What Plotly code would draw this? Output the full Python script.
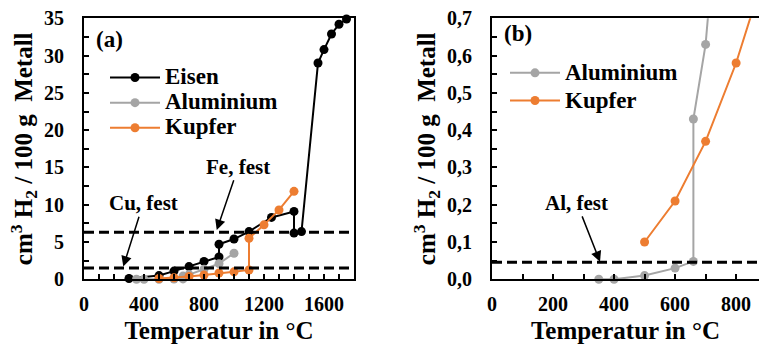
import plotly.graph_objects as go

# ---------------- data ----------------
eisen_T = [300, 500, 600, 700, 800, 900, 900, 1000, 1100, 1250, 1400, 1400, 1450, 1560, 1600, 1650, 1700, 1750]
eisen_H = [0.1, 0.5, 1.1, 1.7, 2.4, 3.0, 4.7, 5.4, 6.4, 8.3, 9.1, 6.2, 6.4, 29.0, 30.8, 32.9, 34.2, 34.9]

alu_T = [350, 400, 500, 600, 660, 660, 700, 800, 900, 1000]
alu_H = [0.0, 0.0, 0.01, 0.03, 0.048, 0.43, 0.63, 1.35, 2.1, 3.5]

kupfer_T = [500, 600, 700, 800, 900, 1000, 1100, 1100, 1200, 1300, 1400]
kupfer_H = [0.10, 0.21, 0.37, 0.58, 0.84, 1.0, 1.25, 5.5, 7.3, 9.3, 11.8]

fe_fest = 6.3
cu_fest = 1.5
al_fest = 0.046

x_title = "Temperatur in °C"
NB = "\u00a0"
y_title = f"cm<sup>3</sup> H<sub>2</sub>{NB}/ 100 g{NB} Metall"

BLACK = "#000000"
GRAY = "#A5A5A5"
ORANGE = "#ED7D31"
FONT = "Liberation Serif"

W, H = 759, 353

fig = go.Figure()

def add(x, y, name, color, xa, ya, legend, show=True):
    fig.add_trace(go.Scatter(
        x=x, y=y, name=f"<span style='font-size:23px'>{name}</span>", mode="lines+markers",
        line=dict(color=color, width=2),
        marker=dict(color=color, size=9),
        xaxis=xa, yaxis=ya, legend=legend, showlegend=show,
        cliponaxis=False,
    ))

# panel (a)
add(eisen_T, eisen_H, "Eisen", BLACK, "x", "y", "legend")
add(alu_T, alu_H, "Aluminium", GRAY, "x", "y", "legend")
add(kupfer_T, kupfer_H, "Kupfer", ORANGE, "x", "y", "legend")
# panel (b)
add(alu_T, alu_H, "Aluminium", GRAY, "x2", "y2", "legend2")
add(kupfer_T, kupfer_H, "Kupfer", ORANGE, "x2", "y2", "legend2")

ydom = [(H - 279.3) / H, (H - 18.3) / H]

axis_common = dict(
    showgrid=False, zeroline=False, showline=True, linecolor=BLACK, linewidth=2,
    ticks="inside", ticklen=5, tickwidth=1.5, tickcolor=BLACK, automargin=False,
    tickfont=dict(family=FONT, size=20, color=BLACK, weight="bold"),
)
title_font = dict(family=FONT, size=25, color=BLACK, weight="bold")
xt_font = dict(family=FONT, size=25, color=BLACK, weight="bold")

fig.update_layout(
    template="none",
    width=W, height=H, margin=dict(l=0, r=0, t=0, b=0, autoexpand=False),
    paper_bgcolor="white", plot_bgcolor="white",
    separators=", ",
    font=dict(family=FONT, color=BLACK, weight="bold"),
    xaxis=dict(domain=[84 / W, 354 / W], range=[0, 1800], dtick=400, tick0=0,
               minor=dict(ticks="inside", ticklen=5, dtick=100, tickwidth=1.5, tickcolor=BLACK),
               mirror=True, ticklabelstandoff=6,
               title=dict(text=x_title, font=xt_font, standoff=7), anchor="y", **axis_common),
    yaxis=dict(domain=ydom, range=[0, 35], dtick=5, tick0=0,
               minor=dict(ticks="inside", ticklen=5, dtick=2.5, tickwidth=1.5, tickcolor=BLACK),
               mirror=True, ticklabelstandoff=14,
               title=dict(text=y_title, font=title_font, standoff=4), anchor="x", **axis_common),
    xaxis2=dict(domain=[492 / W, 1.0], range=[0, 875], dtick=200, tick0=0,
                minor=dict(ticks="inside", ticklen=5, dtick=100, tickwidth=1.5, tickcolor=BLACK),
                mirror=True, ticklabelstandoff=6,
                title=dict(text=x_title, font=xt_font, standoff=7), anchor="y2", **axis_common),
    yaxis2=dict(domain=ydom, range=[0, 0.7], dtick=0.1, tick0=0, tickformat=".1f",
                minor=dict(ticks="inside", ticklen=5, dtick=0.05, tickwidth=1.5, tickcolor=BLACK),
                mirror=False, ticklabelstandoff=14,
                title=dict(text=y_title, font=title_font, standoff=4), anchor="x2", **axis_common),
    legend=dict(x=105 / W, y=(H - 60) / H, xanchor="left", yanchor="top",
                bgcolor="rgba(0,0,0,0)", itemwidth=50, borderwidth=0,
                font=dict(family=FONT, size=17, color=BLACK, weight="bold")),
    legend2=dict(x=505 / W, y=(H - 54) / H, xanchor="left", yanchor="top",
                 bgcolor="rgba(0,0,0,0)", itemwidth=50, borderwidth=0,
                 font=dict(family=FONT, size=19, color=BLACK, weight="bold")),
)

# dashed reference lines
for yv, xr, yr in [(fe_fest, "x", "y"), (cu_fest, "x", "y"), (al_fest, "x2", "y2")]:
    fig.add_shape(type="line", xref=f"{xr} domain", yref=yr, x0=0, x1=1, y0=yv, y1=yv,
                  line=dict(color=BLACK, width=3, dash="10px,5px"))

ann_font = dict(family=FONT, size=21, color=BLACK, weight="bold")
arrow = dict(showarrow=True, arrowhead=2, arrowsize=1.4, arrowwidth=1.5, arrowcolor=BLACK,
             font=ann_font, standoff=0)
fig.add_annotation(text="Fe, fest", x=885, y=6.6, ax=1029, ay=15.1, xref="x", yref="y",
                   axref="x", ayref="y", **arrow)
fig.add_annotation(text="Cu, fest", x=262, y=1.7, ax=395, ay=10.2, xref="x", yref="y",
                   axref="x", ayref="y", **arrow)
fig.add_annotation(text="Al, fest", x=354, y=0.047, ax=278, ay=0.205, xref="x2", yref="y2",
                   axref="x2", ayref="y2", **arrow)

fig.add_annotation(text="(a)", x=170, y=32.1, xref="x", yref="y", showarrow=False,
                   font=dict(family=FONT, size=23, color=BLACK, weight="bold"))
fig.add_annotation(text="(b)", x=86, y=0.66, xref="x2", yref="y2", showarrow=False,
                   font=dict(family=FONT, size=23, color=BLACK, weight="bold"))

fig.write_html("out.html")
